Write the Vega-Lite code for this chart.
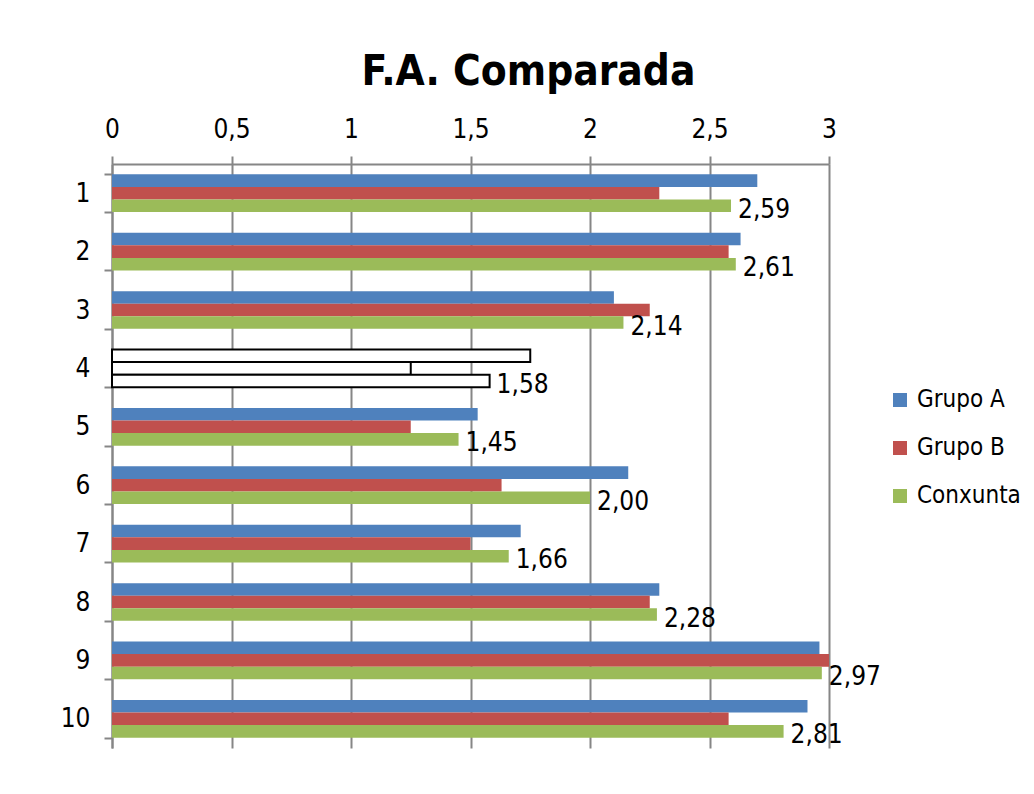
{
  "$schema": "https://vega.github.io/schema/vega-lite/v6.json",
  "autosize": "none",
  "width": 717,
  "height": 584,
  "padding": {"left": 112, "top": 164, "right": 205, "bottom": 46},
  "background": "white",
  "title": {
    "text": "F.A. Comparada",
    "font": "Liberation Sans Narrow, DejaVu Sans Condensed, sans-serif",
    "fontSize": 42,
    "fontWeight": "bold",
    "color": "#000000",
    "anchor": "middle",
    "dx": 58,
    "offset": 22
  },
  "data": {
    "values": [
      {"cat": 1, "serie": "Grupo A", "valor": 2.70},
      {"cat": 1, "serie": "Grupo B", "valor": 2.29},
      {"cat": 1, "serie": "Conxunta", "valor": 2.59},
      {"cat": 2, "serie": "Grupo A", "valor": 2.63},
      {"cat": 2, "serie": "Grupo B", "valor": 2.58},
      {"cat": 2, "serie": "Conxunta", "valor": 2.61},
      {"cat": 3, "serie": "Grupo A", "valor": 2.10},
      {"cat": 3, "serie": "Grupo B", "valor": 2.25},
      {"cat": 3, "serie": "Conxunta", "valor": 2.14},
      {"cat": 4, "serie": "Grupo A", "valor": 1.75},
      {"cat": 4, "serie": "Grupo B", "valor": 1.25},
      {"cat": 4, "serie": "Conxunta", "valor": 1.58},
      {"cat": 5, "serie": "Grupo A", "valor": 1.53},
      {"cat": 5, "serie": "Grupo B", "valor": 1.25},
      {"cat": 5, "serie": "Conxunta", "valor": 1.45},
      {"cat": 6, "serie": "Grupo A", "valor": 2.16},
      {"cat": 6, "serie": "Grupo B", "valor": 1.63},
      {"cat": 6, "serie": "Conxunta", "valor": 2.00},
      {"cat": 7, "serie": "Grupo A", "valor": 1.71},
      {"cat": 7, "serie": "Grupo B", "valor": 1.50},
      {"cat": 7, "serie": "Conxunta", "valor": 1.66},
      {"cat": 8, "serie": "Grupo A", "valor": 2.29},
      {"cat": 8, "serie": "Grupo B", "valor": 2.25},
      {"cat": 8, "serie": "Conxunta", "valor": 2.28},
      {"cat": 9, "serie": "Grupo A", "valor": 2.96},
      {"cat": 9, "serie": "Grupo B", "valor": 3.00},
      {"cat": 9, "serie": "Conxunta", "valor": 2.97},
      {"cat": 10, "serie": "Grupo A", "valor": 2.91},
      {"cat": 10, "serie": "Grupo B", "valor": 2.58},
      {"cat": 10, "serie": "Conxunta", "valor": 2.81}
    ]
  },
  "encoding": {
    "y": {
      "field": "cat",
      "type": "ordinal",
      "scale": {"paddingInner": 0.354, "paddingOuter": 0.177},
      "axis": {
        "title": null,
        "labelFont": "Liberation Sans Narrow, DejaVu Sans Condensed, sans-serif",
        "labelFontSize": 26,
        "labelColor": "#000000",
        "labelPadding": 14,
        "domainColor": "#868686",
        "domainWidth": 2,
        "tickColor": "#868686",
        "tickWidth": 2,
        "tickSize": 8,
        "tickBand": "extent",
        "grid": false
      }
    },
    "yOffset": {
      "field": "serie",
      "type": "nominal",
      "scale": {"domain": ["Grupo A", "Grupo B", "Conxunta"], "paddingInner": 0, "paddingOuter": 0}
    },
    "x": {
      "field": "valor",
      "type": "quantitative",
      "scale": {"domain": [0, 3], "nice": false, "zero": true},
      "axis": {
        "orient": "top",
        "title": null,
        "values": [0, 0.5, 1, 1.5, 2, 2.5, 3],
        "format": "~g",
        "labelFlush": false,
        "labelFont": "Liberation Sans Narrow, DejaVu Sans Condensed, sans-serif",
        "labelFontSize": 26,
        "labelColor": "#000000",
        "labelPadding": 14,
        "domainColor": "#868686",
        "domainWidth": 2,
        "tickColor": "#868686",
        "tickWidth": 2,
        "tickSize": 8,
        "grid": true,
        "gridColor": "#868686",
        "gridWidth": 2,
        "gridOpacity": 1
      }
    }
  },
  "layer": [
    {
      "mark": {"type": "bar", "strokeWidth": 2},
      "encoding": {
        "color": {
          "condition": {"test": "datum.cat === 4", "value": "white"},
          "field": "serie",
          "type": "nominal",
          "scale": {"domain": ["Grupo A", "Grupo B", "Conxunta"], "range": ["#4F81BD", "#C0504D", "#9BBB59"]},
          "legend": {
            "title": null,
            "orient": "none",
            "legendX": 776,
            "legendY": 224,
            "symbolType": "square",
            "symbolSize": 196,
            "symbolStrokeWidth": 0,
            "symbolOpacity": 1,
            "labelFont": "Liberation Sans Narrow, DejaVu Sans Condensed, sans-serif",
            "labelFontSize": 24,
            "labelColor": "#000000",
            "labelOffset": 5,
            "labelLimit": 200,
            "rowPadding": 24
          }
        },
        "stroke": {
          "condition": {"test": "datum.cat === 4", "value": "#000000"},
          "value": "transparent"
        }
      }
    },
    {
      "transform": [{"filter": "datum.serie === 'Conxunta'"}],
      "mark": {
        "type": "text",
        "align": "left",
        "baseline": "middle",
        "dx": 7,
        "dy": 4,
        "font": "Liberation Sans Narrow, DejaVu Sans Condensed, sans-serif",
        "fontSize": 26,
        "color": "#000000"
      },
      "encoding": {
        "text": {"field": "valor", "type": "quantitative", "format": ".2f"}
      }
    }
  ],
  "config": {
    "locale": {
      "number": {"decimal": ",", "thousands": ".", "grouping": [3], "currency": ["", " €"]}
    },
    "view": {"stroke": null}
  }
}
